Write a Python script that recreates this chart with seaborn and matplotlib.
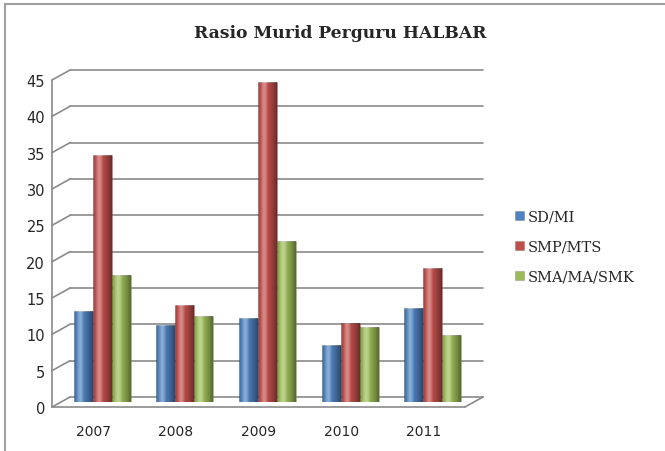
import numpy as np
import pandas as pd
import matplotlib.pyplot as plt
import matplotlib.transforms as mtransforms
from matplotlib.lines import Line2D
import seaborn as sns

# Data
years = ['2007', '2008', '2009', '2010', '2011']
sd_mi = [12.5, 10.6, 11.6, 7.8, 13.0]
smp_mts = [34.0, 13.3, 44.0, 10.9, 18.5]
sma_ma_smk = [17.5, 11.9, 22.2, 10.3, 9.2]
series = ['SD/MI', 'SMP/MTS', 'SMA/MA/SMK']
colors = ['#4F81BD', '#C0504D', '#9BBB59']
yticks = list(range(0, 50, 5))

df = pd.DataFrame({
    'Tahun': years * 3,
    'Rasio': sd_mi + smp_mts + sma_ma_smk,
    'Jenjang': [s for s in series for _ in years],
})

sns.set_style('white')
plt.rcParams['font.family'] = ['DejaVu Serif']

fig = plt.figure(figsize=(6.65, 4.52), dpi=100)
ax = fig.add_axes([61 / 665, 1 - 403 / 452, 413 / 665, 327 / 452])
ax.set_ylim(0, 45)
ax.set_xlim(-0.5, 4.5)

# fake 3D depth: back wall and front edge shifted from the bar plane
back = mtransforms.ScaledTranslation(0.09, 0.05, fig.dpi_scale_trans)
front = mtransforms.ScaledTranslation(-0.09, -0.05, fig.dpi_scale_trans)
blend = mtransforms.blended_transform_factory(ax.transAxes, ax.transData)
ident = mtransforms.IdentityTransform()
grid_c = '#8a8a8a'

for y in yticks:
    ax.plot([0, 1], [y, y], transform=blend + back, color=grid_c, lw=1.2,
            clip_on=False, zorder=0)
    # diagonal from front edge to back wall
    p0 = (blend + front).transform((0, y))
    p1 = (blend + back).transform((0, y))
    ax.plot([p0[0], p1[0]], [p0[1], p1[1]], transform=ident, color=grid_c,
            lw=1.2, clip_on=False, zorder=0)

# front left axis and floor
ax.plot([0, 0], [0, 45], transform=blend + front, color=grid_c, lw=1.2, clip_on=False)
ax.plot([0, 1], [0, 0], transform=blend + front, color=grid_c, lw=1.2, clip_on=False)
q0 = (blend + front).transform((1, 0))
q1 = (blend + back).transform((1, 0))
ax.plot([q0[0], q1[0]], [q0[1], q1[1]], transform=ident, color=grid_c, lw=1.2, clip_on=False)

sns.barplot(data=df, x='Tahun', y='Rasio', hue='Jenjang', palette=colors,
            width=0.69, gap=0, saturation=1, ax=ax, zorder=3)

# cylinder-like shading over each bar: highlight left of centre, darker edges
t = np.linspace(0, 1, 64)
light = 0.35 * np.exp(-((t - 0.33) / 0.14) ** 2)
dark = 0.45 * (np.abs(t - 0.33) / 0.67) ** 1.6
rgba = np.zeros((1, 64, 4))
rgba[0, :, :3] = np.where(light > dark, 1.0, 0.0)[:, None]
rgba[0, :, 3] = np.maximum(light, dark)
for bar in list(ax.patches):
    bar.set_edgecolor('#00000030')
    bar.set_linewidth(0.6)
    x0, w, h = bar.get_x(), bar.get_width(), bar.get_height()
    if h <= 0:
        continue
    im = ax.imshow(rgba, extent=[x0, x0 + w, 0, h], aspect='auto', zorder=4,
                   interpolation='bilinear')
    im.set_clip_path(bar)

ax.set_ylim(0, 45)
ax.set_xlim(-0.5, 4.5)
ax.set_yticks(yticks)
ax.set_xlabel('')
ax.set_ylabel('')
for s in ax.spines.values():
    s.set_visible(False)
ax.set_facecolor('none')
ax.tick_params(axis='y', length=0, pad=5, labelsize=10.5)
ax.tick_params(axis='x', length=0, pad=12, labelsize=10)
for lab in ax.get_yticklabels() + ax.get_xticklabels():
    lab.set_transform(lab.get_transform() + front)
    lab.set_fontfamily('DejaVu Sans')

leg = ax.legend(loc='center left', bbox_to_anchor=(1.085, 0.475), frameon=False,
                fontsize=10.5, handlelength=0.6, handleheight=0.6, handletextpad=0.3,
                labelspacing=1.1, borderaxespad=0)

fig.text(340 / 665, 1 - 33 / 452, 'Rasio Murid Perguru HALBAR', ha='center',
         va='center', fontsize=12.3, fontweight='bold')

# frame only on top and left, like the cropped source
fig.add_artist(Line2D([5 / 665, 1], [1 - 5 / 452, 1 - 5 / 452], transform=fig.transFigure,
                      color='#a0a0a0', lw=1.5))
fig.add_artist(Line2D([5 / 665, 5 / 665], [0, 1 - 5 / 452], transform=fig.transFigure,
                      color='#a0a0a0', lw=1.5))

fig.savefig('out.png', dpi=100)
